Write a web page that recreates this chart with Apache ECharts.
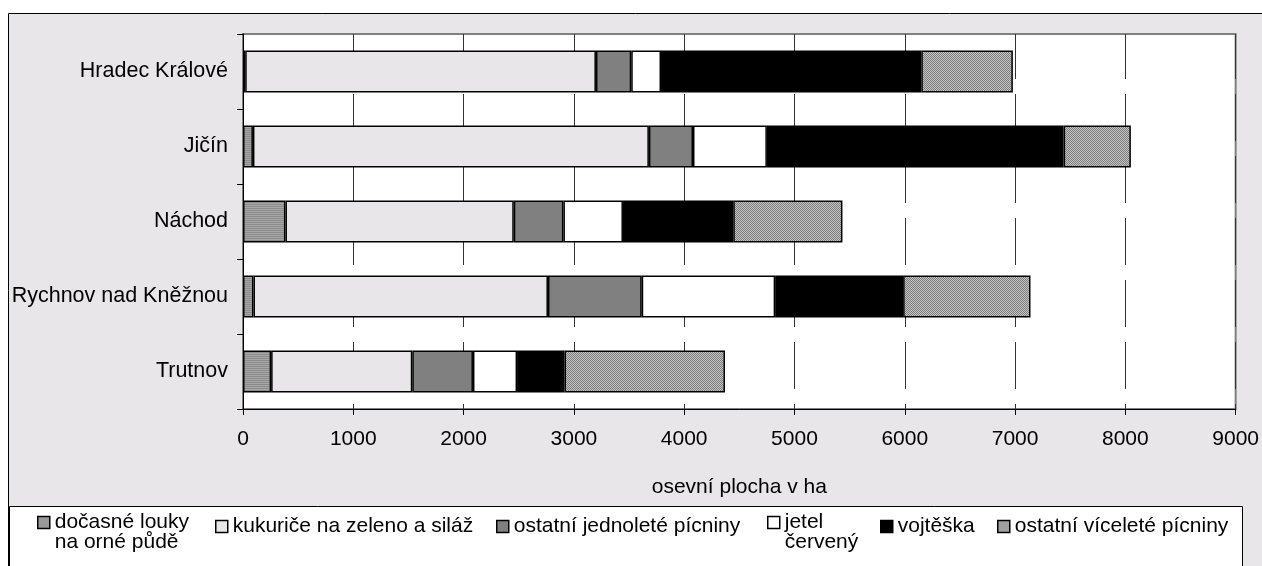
<!DOCTYPE html>
<html>
<head>
<meta charset="utf-8">
<script src="https://cdn.jsdelivr.net/npm/echarts@6/dist/echarts.min.js"></script>
<style>
    html, body { margin: 0; padding: 0; background: #fff; }
    #chart { width: 1262px; height: 566px; }
</style>
</head>
<body>
<div id="chart"></div>
<script>
// okresy (shora dolu)
var categories = ['Hradec Králové', 'Jičín', 'Náchod', 'Rychnov nad Kněžnou', 'Trutnov']

// osevni plocha v ha
var docasneLouky = [20, 90, 385, 95, 255]
var kukurice = [3180, 3590, 2070, 2670, 1280]
var ostatniJednolete = [320, 400, 450, 850, 550]
var jetel = [270, 670, 540, 1210, 400]
var vojteska = [2360, 2690, 1000, 1160, 430]
var ostatniVicelete = [830, 610, 990, 1155, 1455]

var xTicks = { min: 0, max: 9000, interval: 1000 }

var FONT = "'Liberation Sans', Arial, sans-serif"

// srafy jako v excelu
function stripes() {
    var c = document.createElement('canvas')
    c.width = 2
    c.height = 2
    var ctx = c.getContext('2d')
    ctx.fillStyle = '#8a8a8a'
    ctx.fillRect(0, 0, 2, 1)
    ctx.fillStyle = '#a8a8a8'
    ctx.fillRect(0, 1, 2, 1)
    return { image: c, repeat: 'repeat' }
}
function dots() {
    var c = document.createElement('canvas')
    c.width = 2
    c.height = 2
    var ctx = c.getContext('2d')
    ctx.fillStyle = '#c4c4c4'
    ctx.fillRect(0, 0, 2, 2)
    ctx.fillStyle = '#7c7c7c'
    ctx.fillRect(0, 0, 1, 1)
    ctx.fillRect(1, 1, 1, 1)
    return { image: c, repeat: 'repeat' }
}

var seriesDefs = [
    { name: 'dočasné louky na orné půdě', data: docasneLouky, color: stripes(), label: 'dočasné louky\nna orné půdě', left: 37 },
    { name: 'kukuriče na zeleno a siláž', data: kukurice, color: '#e8e6e8', label: 'kukuriče na zeleno a siláž', left: 215 },
    { name: 'ostatní jednoleté pícniny', data: ostatniJednolete, color: '#808080', label: 'ostatní jednoleté pícniny', left: 496 },
    { name: 'jetel červený', data: jetel, color: '#ffffff', label: 'jetel\nčervený', left: 767 },
    { name: 'vojtěška', data: vojteska, color: '#000000', label: 'vojtěška', left: 880 },
    { name: 'ostatní víceleté pícniny', data: ostatniVicelete, color: dots(), label: 'ostatní víceleté pícniny', left: 997 }
]

var chart = echarts.init(document.getElementById('chart'))

var legends = seriesDefs.map(function (s) {
    var twoLines = s.label.indexOf('\n') >= 0
    return {
        data: [s.name],
        left: s.left,
        // prazdny radek nahore, aby prvni radek sedel s ikonou
        top: twoLines ? 492 : 516,
        padding: 0,
        icon: 'rect',
        itemWidth: 12,
        itemHeight: 12,
        selectedMode: false,
        itemStyle: { borderColor: '#000', borderWidth: 1.5 },
        formatter: function () { return twoLines ? '\n' + s.label : s.label },
        textStyle: {
            fontFamily: FONT,
            fontSize: 21,
            color: '#000',
            lineHeight: 20
        }
    }
})

chart.setOption({
    backgroundColor: '#fff',
    animation: false,
    graphic: [
        {
            type: 'rect',
            z: -10,
            shape: { x: 8.5, y: 13.5, width: 1300, height: 600 },
            style: { fill: '#e8e6e8', stroke: '#000', lineWidth: 1 }
        },
        {
            type: 'rect',
            z: 1,
            shape: { x: 9.5, y: 506.5, width: 1233, height: 100 },
            style: { fill: '#fff', stroke: '#000', lineWidth: 1 }
        }
    ],
    legend: legends,
    grid: {
        left: 243,
        right: 25,
        top: 34,
        bottom: 157,
        show: true,
        backgroundColor: '#fff',
        borderColor: '#808080',
        borderWidth: 2
    },
    xAxis: {
        type: 'value',
        min: xTicks.min,
        max: xTicks.max,
        interval: xTicks.interval,
        name: 'osevní plocha v ha',
        nameLocation: 'middle',
        nameGap: 68,
        nameTextStyle: { fontFamily: FONT, fontSize: 21, color: '#000' },
        axisLine: { show: true, lineStyle: { color: '#000', width: 1 } },
        axisTick: { show: true, length: 6, lineStyle: { color: '#000' } },
        axisLabel: {
            margin: 20,
            fontFamily: FONT,
            fontSize: 21,
            color: '#000',
            formatter: function (v) { return String(v) }
        },
        splitLine: {
            show: true,
            lineStyle: { color: '#333', width: 1, type: [47, 15], dashOffset: 2 }
        }
    },
    yAxis: {
        type: 'category',
        inverse: true,
        data: categories,
        axisLine: { show: true, lineStyle: { color: '#000', width: 1 } },
        axisTick: { show: true, length: 6, lineStyle: { color: '#000' } },
        axisLabel: { margin: 15, fontFamily: FONT, fontSize: 21.5, color: '#000' }
    },
    series: seriesDefs.map(function (s) {
        return {
            name: s.name,
            type: 'bar',
            stack: 'plocha',
            barWidth: 42,
            data: s.data,
            itemStyle: { color: s.color, borderColor: '#000', borderWidth: 1.5 }
        }
    })
})
</script>
</body>
</html>
